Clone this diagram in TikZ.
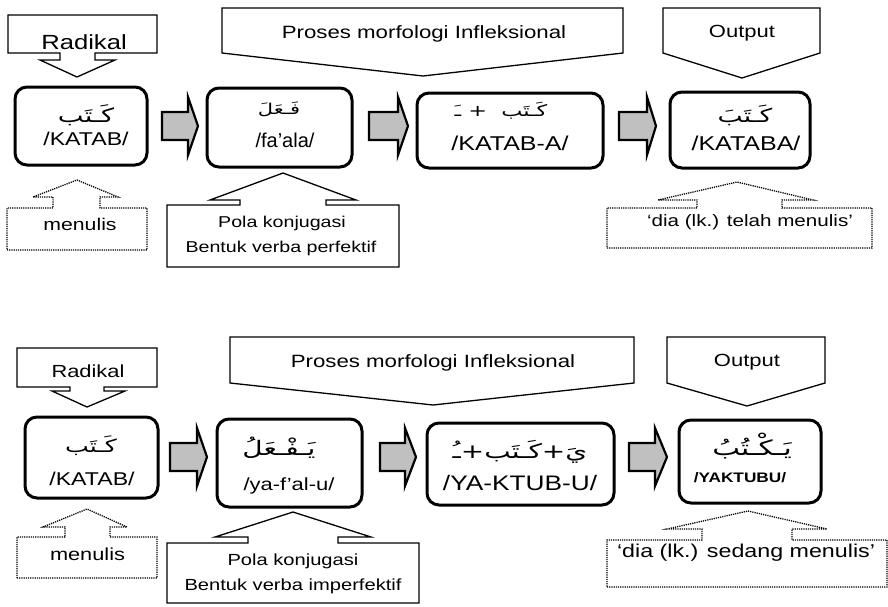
\documentclass[tikz,border=0pt]{standalone}
\usepackage{fontspec}
\setmainfont[FakeStretch=1.25]{Liberation Sans}
\newfontfamily\plainsans{Liberation Sans}
\newfontfamily\arabicfont[Script=Arabic,FakeStretch=1.4]{DejaVu Sans}
\TeXXeTstate=1
\newcommand\setsz[1]{\fontsize{#1}{#1}\selectfont}
\definecolor{arrowgray}{RGB}{192,192,192}
\tikzset{
  wordbox/.style={draw, line width=3pt, rounded corners=12pt, inner sep=0pt},
  callout/.style={draw, line width=1.3pt, line join=miter},
  dotcallout/.style={draw, line width=1.3pt, dash pattern=on 1.2pt off 1pt},
  grayarr/.style={draw, line width=2.2pt, fill=arrowgray, line join=miter},
  ar/.style={anchor=base, inner sep=0pt, font=\arabicfont\setsz{#1}},
  tx/.style={anchor=base, inner sep=0pt, font=\setsz{#1}},
}
% block arrow: body left, head base, tip, centre line
\newcommand\blockarrow[4]{%
  \draw[grayarr] (#1,#4-14) -- (#2,#4-14) -- (#2,#4-29) -- (#3,#4)
    -- (#2,#4+29) -- (#2,#4+14) -- (#1,#4+14) -- cycle;}
\begin{document}
\begin{tikzpicture}[x=1pt,y=-1pt]
\fill[white] (0,0) rectangle (888,606);
\useasboundingbox (0,0) rectangle (888,606);

% ---------------- perfective ----------------
\draw[callout] (8,15) -- (157,15) -- (157,53) -- (95,53) -- (95,60) -- (115,60)
  -- (77,77) -- (40,60) -- (60,60) -- (60,53) -- (8,53) -- cycle;
\node[tx=20.5] (rad1) at (84,49) {Radikal};

\draw[callout] (222,8) -- (623,8) -- (623,53) -- (423,76) -- (222,53) -- cycle;
\node[tx=17.8] (pro1) at (424,38) {Proses morfologi Infleksional};

\draw[callout] (663,8) -- (820,8) -- (820,53) -- (742,78) -- (663,53) -- cycle;
\node[tx=17.6] (out1) at (742,37) {Output};

\node[wordbox, minimum width=132pt, minimum height=78pt] (k1) at (81,126) {};
\node[wordbox, minimum width=145pt, minimum height=79pt] (k2) at (279.5,127.5) {};
\node[wordbox, minimum width=186pt, minimum height=75pt] (k3) at (510,130.5) {};
\node[wordbox, minimum width=140pt, minimum height=76pt] (k4) at (740,130) {};

\node[ar=19.5] (k1ar) at (86,122) {\beginR كَـتَب\endR};
\node[tx=18.5] (k1tr) at (86,145) {/KATAB/};
\node[ar=15] (k2ar) at (279,114) {\beginR فَـعَلَ\endR};
\node[tx=20, font=\plainsans\setsz{20}] (k2tr) at (285,147) {/fa’ala/};
\node[ar=16] (k3ar) at (501,116) {\beginR كَـتَب\ \ + ـَ\endR};
\node[tx=20] (k3tr) at (510,150) {/KATAB-A/};
\node[ar=19] (k4ar) at (745,122) {\beginR كَـتَبَ\endR};
\node[tx=20] (k4tr) at (746,150) {/KATABA/};

\blockarrow{162}{188}{198}{126}
\blockarrow{369}{398}{408}{126}
\blockarrow{619}{647}{656}{126}

\draw[dotcallout] (7,250) -- (147,250) -- (147,208) -- (100,208) -- (100,197) -- (118,197)
  -- (77,180) -- (33,197) -- (53,197) -- (53,208) -- (7,208) -- cycle;
\node[tx=17] (men1) at (80,230) {menulis};

\draw[callout] (167,267) -- (399,267) -- (399,205) -- (326,205) -- (326,200) -- (356,200)
  -- (283,173) -- (210,200) -- (240,200) -- (240,205) -- (167,205) -- cycle;
\node[tx=15.7] (pol1a) at (282,227) {Pola konjugasi};
\node[tx=15.7] (pol1b) at (281,252) {Bentuk verba perfektif};

\draw[dotcallout] (607,248) -- (872,248) -- (872,208) -- (782,208) -- (782,200) -- (813,200)
  -- (737,182) -- (658,200) -- (697,200) -- (697,208) -- (607,208) -- cycle;
\node[tx=16.5] (dia1) at (750,226) {‘dia (lk.) telah menulis’};

% ---------------- imperfective ----------------
\draw[callout] (17,348) -- (157,348) -- (157,387) -- (104,387) -- (104,391) -- (125,391)
  -- (87,407) -- (52,391) -- (70,391) -- (70,387) -- (17,387) -- cycle;
\node[tx=17.5] (rad2) at (88,377) {Radikal};

\draw[callout] (230,337) -- (634,337) -- (634,383) -- (433,405) -- (230,383) -- cycle;
\node[tx=17.8] (pro2) at (433,367) {Proses morfologi Infleksional};

\draw[callout] (667,337) -- (825,337) -- (825,383) -- (747,406) -- (667,383) -- cycle;
\node[tx=17.6] (out2) at (747,366) {Output};

\node[wordbox, minimum width=133pt, minimum height=81pt] (b1) at (91.5,457.5) {};
\node[wordbox, minimum width=145pt, minimum height=88pt] (b2) at (289.5,463) {};
\node[wordbox, minimum width=187pt, minimum height=82pt] (b3) at (520.5,464) {};
\node[wordbox, minimum width=142pt, minimum height=83pt] (b4) at (750,461.5) {};

\node[ar=18] (b1ar) at (91,452) {\beginR كَـتَب\endR};
\node[tx=18.5] (b1tr) at (92,485) {/KATAB/};
\node[ar=20] (b2ar) at (279,455) {\beginR يَـفْـعَلُ\endR};
\node[tx=17.6] (b2tr) at (289,490) {/ya-f’al-u/};
\node[ar=20] (b3ar) at (520,458) {\beginR يَ+كَـتَب+ـُ\endR};
\node[tx=21] (b3tr) at (520,490) {/YA-KTUB-U/};
\node[ar=21] (b4ar) at (752,455) {\beginR يَـكْـتُبُ\endR};
\node[tx=13.8, font=\setsz{13.8}\bfseries] (b4tr) at (740,482) {/YAKTUBU/};

\blockarrow{170}{197}{207}{457}
\blockarrow{380}{405}{416}{457}
\blockarrow{629}{655}{667}{457}

\draw[dotcallout] (17,578) -- (157,578) -- (157,537) -- (110,537) -- (110,527) -- (127,527)
  -- (87,509) -- (43,527) -- (65,527) -- (65,537) -- (17,537) -- cycle;
\node[tx=17.4] (men2) at (87.5,560) {menulis};

\draw[callout] (167,603) -- (419,603) -- (419,543) -- (338,543) -- (338,537) -- (371,537)
  -- (293,512) -- (215,537) -- (248,537) -- (248,543) -- (167,543) -- cycle;
\node[tx=16.1] (pol2a) at (293,565) {Pola konjugasi};
\node[tx=16.1] (pol2b) at (293,590) {Bentuk verba imperfektif};

\draw[dotcallout] (607,587) -- (887,587) -- (887,540) -- (792,540) -- (792,529) -- (827,529)
  -- (748,511) -- (667,529) -- (702,529) -- (702,540) -- (607,540) -- cycle;
\node[tx=18.6] (dia2) at (746,557) {‘dia (lk.) sedang menulis’};
\end{tikzpicture}
\end{document}
